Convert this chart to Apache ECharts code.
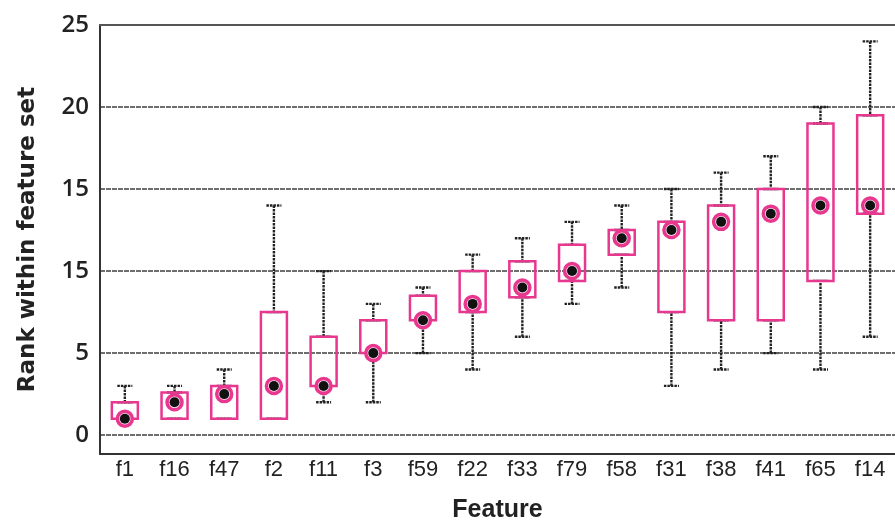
<!DOCTYPE html>
<html>
<head>
<meta charset="utf-8">
<title>Rank within feature set</title>
<script src="https://cdn.jsdelivr.net/npm/echarts@6/dist/echarts.min.js"></script>
<style>
	html, body { margin: 0; padding: 0; background: #fff; }
	#chart { width: 895px; height: 528px; }
</style>
</head>
<body>
<div id="chart"></div>
<script>
// values
var categories = ['f1', 'f16', 'f47', 'f2', 'f11', 'f3', 'f59', 'f22', 'f33', 'f79', 'f58', 'f31', 'f38', 'f41', 'f65', 'f14'];
var whiskerLow = [1, 1, 1, 1, 2, 2, 5, 4, 6, 8, 9, 3, 4, 5, 4, 6];
var boxLow = [1, 1, 1, 1, 3, 5, 7, 7.5, 8.4, 9.4, 11, 7.5, 7, 7, 9.4, 13.5];
var medians = [1, 2, 2.5, 3, 3, 5, 7, 8, 9, 10, 12, 12.5, 13, 13.5, 14, 14];
var boxHigh = [2, 2.6, 3, 7.5, 6, 7, 8.5, 10, 10.6, 11.6, 12.5, 13, 14, 15, 19, 19.5];
var whiskerHigh = [3, 3, 4, 14, 10, 8, 9, 11, 12, 13, 14, 15, 16, 17, 20, 24];

// tick labels as printed on the original (the 10 line is labelled 15 there)
var yTickValues = [0, 5, 10, 15, 20, 25];
var yTickLabels = ['0', '5', '15', '15', '20', '25'];

var pink = '#e8378f';
var gridGrey = '#6e6e6e';

var chart = echarts.init(document.getElementById('chart'), null, { renderer: 'canvas' });

// boxplot rows: [min, q1, median, q3, max]
var lowerRows = [], upperRows = [], boxRows = [];
for (var i = 0; i < categories.length; i++) {
	lowerRows.push([whiskerLow[i], boxLow[i], boxLow[i], boxLow[i], boxLow[i]]);
	upperRows.push([boxHigh[i], boxHigh[i], boxHigh[i], boxHigh[i], whiskerHigh[i]]);
	// median line sits on the box bottom so it disappears, the dot marks the median
	boxRows.push([boxLow[i], boxLow[i], boxLow[i], boxHigh[i], boxHigh[i]]);
}

var hiddenCat = function () {
	return { type: 'category', data: categories, show: false, gridIndex: 0 };
};

var whiskerStyle = {
	color: 'transparent',
	borderColor: '#222',
	borderWidth: 2.4,
	borderType: [2.5, 1]
};

var option = {
	backgroundColor: '#fff',
	animation: false,
	grid: {
		left: 100,
		top: 25,
		width: 800,
		height: 432
	},
	xAxis: [
		{
			type: 'category',
			data: categories,
			position: 'bottom',
			name: 'Feature',
			nameLocation: 'middle',
			nameGap: 44,
			nameTextStyle: { fontFamily: 'Liberation Sans', fontWeight: 'bold', fontSize: 25, color: '#222' },
			axisLine: { onZero: false, lineStyle: { color: '#333', width: 2 } },
			axisTick: { inside: true, alignWithLabel: true, length: 6, lineStyle: { color: '#444', width: 1.5 } },
			axisLabel: { interval: 0, margin: 5, fontFamily: 'Liberation Sans', fontSize: 22, color: '#222' },
			splitLine: { show: false }
		},
		{
			type: 'category',
			data: categories,
			position: 'top',
			axisLine: { onZero: false, lineStyle: { color: '#555', width: 2 } },
			axisTick: { inside: true, alignWithLabel: true, length: 5, lineStyle: { color: '#555', width: 1.5 } },
			axisLabel: { show: false }
		},
		hiddenCat(),
		hiddenCat()
	],
	yAxis: {
		type: 'value',
		min: -1.15,
		max: 25,
		name: 'Rank within feature set',
		nameLocation: 'middle',
		nameGap: 60,
		nameTextStyle: { fontFamily: 'DejaVu Sans', fontWeight: 'bold', fontSize: 23, color: '#222' },
		axisLine: { show: true, lineStyle: { color: '#333', width: 2 } },
		axisTick: { show: false, customValues: yTickValues },
		axisLabel: {
			customValues: yTickValues,
			margin: 11,
			fontFamily: 'Open Sans',
			fontWeight: 600,
			fontSize: 24,
			color: '#222',
			formatter: function (v) {
				var k = yTickValues.indexOf(Math.round(v * 100) / 100);
				return k < 0 ? '' : yTickLabels[k];
			}
		},
		splitLine: { lineStyle: { color: gridGrey, width: 2, type: [5, 1] } }
	},
	series: [
		{
			name: 'lower whisker',
			type: 'boxplot',
			xAxisIndex: 2,
			boxWidth: [15, 15],
			z: 2,
			silent: true,
			itemStyle: whiskerStyle,
			data: lowerRows
		},
		{
			name: 'upper whisker',
			type: 'boxplot',
			xAxisIndex: 3,
			boxWidth: [15, 15],
			z: 2,
			silent: true,
			itemStyle: whiskerStyle,
			data: upperRows
		},
		{
			name: 'box',
			type: 'boxplot',
			xAxisIndex: 0,
			boxWidth: [26, 26],
			z: 3,
			silent: true,
			itemStyle: { color: 'transparent', borderColor: pink, borderWidth: 2.5 },
			data: boxRows
		},
		{
			name: 'median ring',
			type: 'scatter',
			xAxisIndex: 0,
			symbol: 'circle',
			symbolSize: 15,
			z: 4,
			silent: true,
			itemStyle: { color: 'rgba(255,235,245,0.8)', borderColor: pink, borderWidth: 3.5, opacity: 1 },
			data: medians
		},
		{
			name: 'median',
			type: 'scatter',
			xAxisIndex: 0,
			symbol: 'circle',
			symbolSize: 10,
			z: 5,
			silent: true,
			itemStyle: { color: '#111', opacity: 1 },
			data: medians
		}
	]
};

chart.setOption(option);
</script>
</body>
</html>
